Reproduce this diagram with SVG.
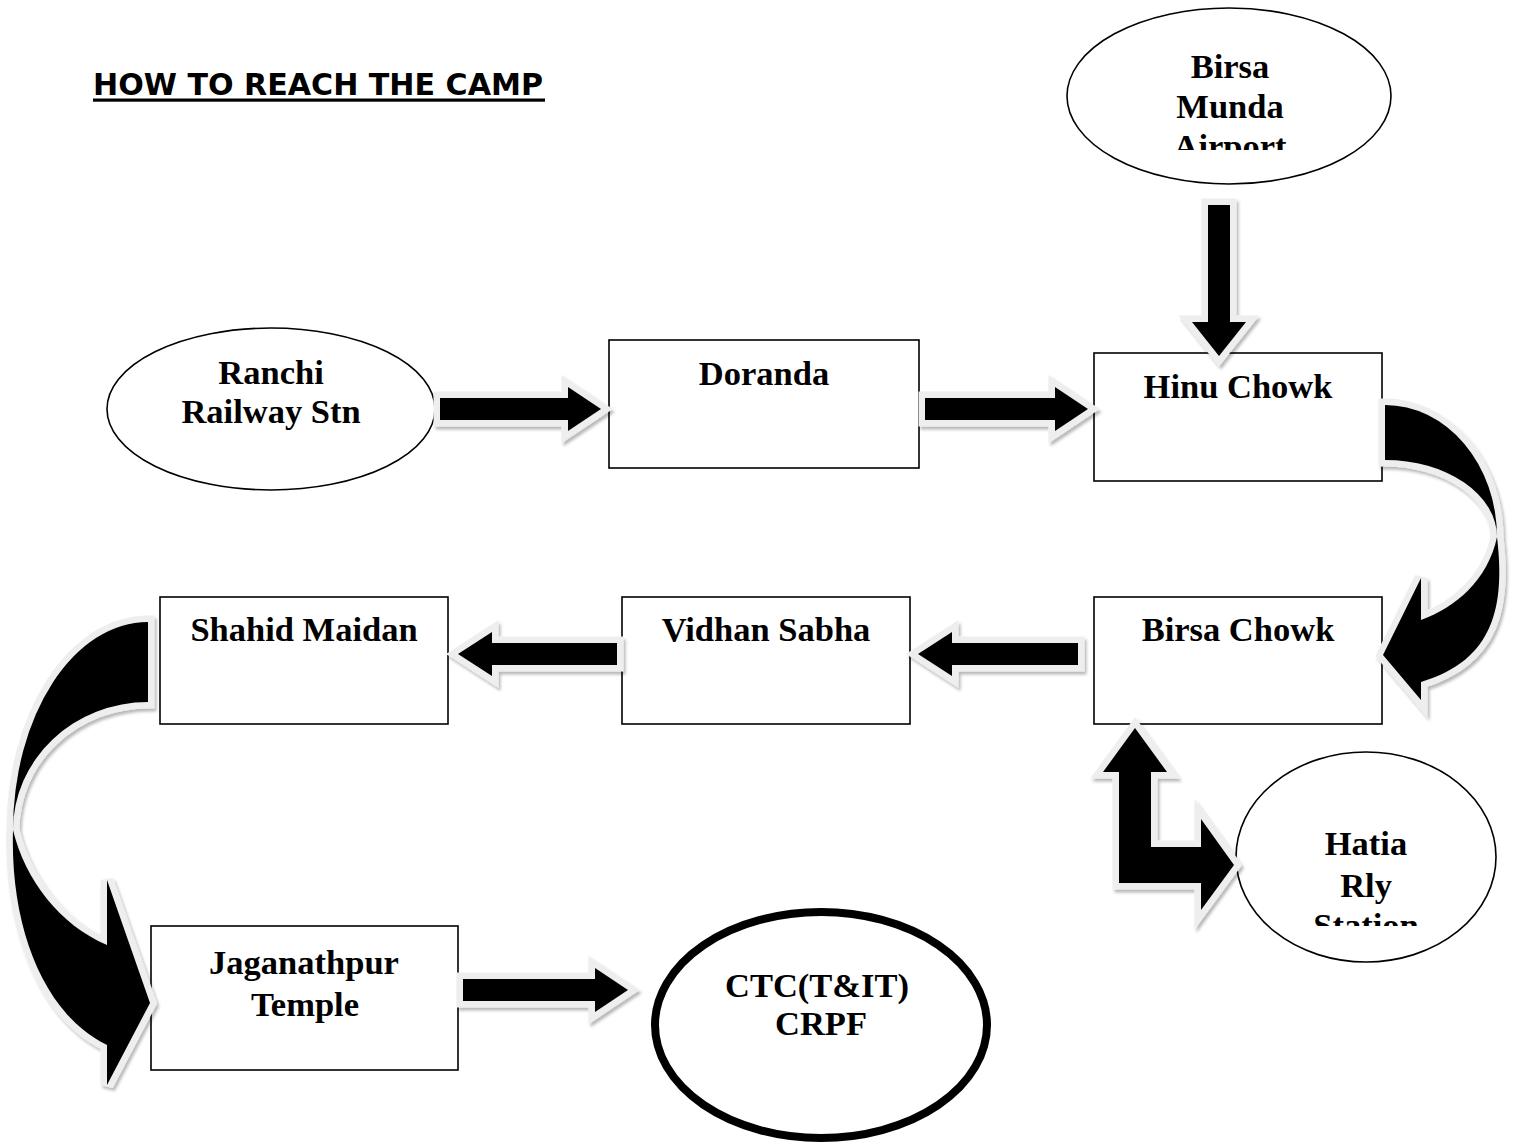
<svg xmlns="http://www.w3.org/2000/svg" width="1515" height="1146" viewBox="0 0 1515 1146">
<defs>
<style>
.box{fill:#fff;stroke:#000;stroke-width:1.6}
.ell{fill:#fff;stroke:#000;stroke-width:1.6}
.lbl{font-family:"Liberation Serif","Times New Roman",serif;font-weight:bold;font-size:34.5px;fill:#000;text-anchor:middle}
.arr{fill:#000;stroke:#eeeeee;stroke-width:13;stroke-linejoin:miter;paint-order:stroke}
.title{font-family:"DejaVu Sans","Noto Sans",sans-serif;font-weight:bold;font-size:30px;fill:#000}
</style>
<filter id="sh" x="-20%" y="-20%" width="140%" height="140%">
<feDropShadow dx="2" dy="3" stdDeviation="1.8" flood-color="#000" flood-opacity="0.28"/>
</filter>
<clipPath id="clipAir"><rect x="1060" y="0" width="340" height="150"/></clipPath>
<clipPath id="clipHatia"><rect x="1230" y="740" width="280" height="186"/></clipPath>
</defs>
<rect width="1515" height="1146" fill="#fff"/>

<g id="title">
<text class="title" x="93" y="95" textLength="450" lengthAdjust="spacingAndGlyphs">HOW TO REACH THE CAMP</text>
<rect x="93" y="98.5" width="452" height="3.2" fill="#000"/>
</g>

<g id="node-airport">
<ellipse class="ell" cx="1229" cy="96" rx="162" ry="88"/>
<g clip-path="url(#clipAir)">
<text class="lbl" x="1230" y="78">Birsa</text>
<text class="lbl" x="1230" y="118">Munda</text>
<text class="lbl" x="1230" y="158">Airport</text>
</g>
</g>

<g id="node-ranchi">
<ellipse class="ell" cx="271" cy="409" rx="164" ry="81"/>
<text class="lbl" x="271" y="384">Ranchi</text>
<text class="lbl" x="271" y="423">Railway Stn</text>
</g>

<g id="node-doranda">
<rect class="box" x="609" y="340" width="310" height="128"/>
<text class="lbl" x="764" y="385">Doranda</text>
</g>

<g id="node-hinu">
<rect class="box" x="1094" y="353" width="288" height="128"/>
<text class="lbl" x="1238" y="398">Hinu Chowk</text>
</g>

<g id="node-birsachowk">
<rect class="box" x="1094" y="597" width="288" height="127"/>
<text class="lbl" x="1238" y="641">Birsa Chowk</text>
</g>

<g id="node-vidhan">
<rect class="box" x="622" y="597" width="288" height="127"/>
<text class="lbl" x="766" y="641">Vidhan Sabha</text>
</g>

<g id="node-shahid">
<rect class="box" x="160" y="597" width="288" height="127"/>
<text class="lbl" x="304" y="641">Shahid Maidan</text>
</g>

<g id="node-hatia">
<ellipse class="ell" cx="1366" cy="857" rx="130" ry="105"/>
<g clip-path="url(#clipHatia)">
<text class="lbl" x="1366" y="855">Hatia</text>
<text class="lbl" x="1366" y="897">Rly</text>
<text class="lbl" x="1366" y="937">Station</text>
</g>
</g>

<g id="node-jaganathpur">
<rect class="box" x="151" y="926" width="307" height="144"/>
<text class="lbl" x="304" y="974">Jaganathpur</text>
<text class="lbl" x="305" y="1016">Temple</text>
</g>

<g id="node-ctc">
<ellipse cx="821" cy="1025" rx="166" ry="113" fill="#fff" stroke="#000" stroke-width="8"/>
<text class="lbl" x="817" y="997">CTC(T&amp;IT)</text>
<text class="lbl" x="821" y="1035">CRPF</text>
</g>

<g id="connectors" filter="url(#sh)">
<path class="arr" d="M440,398 L568,398 L568,387 L601,409 L568,431 L568,420 L440,420 Z"/>
<path class="arr" d="M925,398 L1055,398 L1055,387 L1088,409 L1055,431 L1055,420 L925,420 Z"/>
<path class="arr" d="M1208,205 L1230,205 L1230,322 L1246,322 L1219,356 L1192,322 L1208,322 Z"/>
<path class="arr" d="M1078,643 L952,643 L952,632 L918,654 L952,676 L952,665 L1078,665 Z"/>
<path class="arr" d="M617,643 L492,643 L492,632 L458,654 L492,676 L492,665 L617,665 Z"/>
<path class="arr" d="M463,979 L595,979 L595,968 L628,990 L595,1012 L595,1001 L463,1001 Z"/>
<path class="arr" d="M1135,728 L1167,772 L1151,772 L1151,847 L1201,847 L1201,819 L1234,865 L1201,910 L1201,883 L1119,883 L1119,772 L1103,772 Z"/>
<path class="arr" d="M1385,405 A112,132 0 0 1 1497,537 A112,77 0 0 0 1385,460 Z"/>
<path class="arr" d="M1497,537 C1505,605 1495,660 1421,682 L1421,700 L1383,655 L1421,578 L1421,620 C1455,608 1488,580 1497,537 Z"/>
<path class="arr" d="M148,622 A135,208 0 0 0 13,830 A135,128 0 0 1 148,702 Z"/>
<path class="arr" d="M13,830 C10,930 45,1015 107,1045 L107,1085 L150,1003 L107,880 L107,945 C60,925 25,880 13,830 Z"/>
</g>
</svg>
